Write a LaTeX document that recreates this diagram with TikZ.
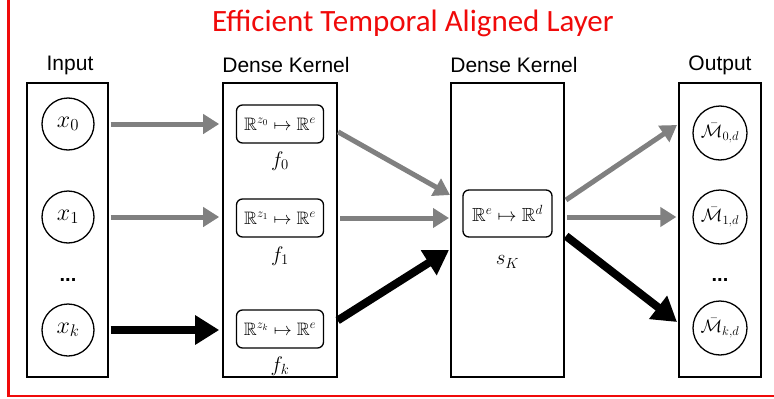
\RequirePackage{fix-cm}
\documentclass[tikz,border=0pt]{standalone}
\usepackage{amsmath}
\usepackage{amssymb}
\usepackage[no-math]{fontspec}
\setmainfont{Liberation Sans}
\newfontfamily\titlefont{Carlito}
\usetikzlibrary{arrows.meta}
\definecolor{framered}{RGB}{240,10,10}
\definecolor{flowgray}{RGB}{128,128,128}

\begin{document}
\begin{tikzpicture}[x=1pt, y=-1pt,
    every node/.style={font=\fontsize{21}{25}\selectfont},
    layerbox/.style={draw, line width=1.6pt, minimum width=#1, minimum height=294pt, inner sep=0pt},
    unit/.style={circle, draw, line width=1.3pt, minimum size=52pt, inner sep=0pt, font=\fontsize{24}{28}\selectfont},
    outunit/.style={unit, minimum size=54pt, font=\fontsize{18}{21}\selectfont},
    mapbox/.style={draw, rounded corners=6pt, line width=1.3pt, minimum width=#1, inner sep=0pt, font=\fontsize{18}{21}\selectfont},
    fname/.style={font=\fontsize{21}{24}\selectfont},
    softarrow/.style={draw=flowgray, line width=5pt, -{Triangle[length=16pt,width=19pt]}},
    hardarrow/.style={draw=black, line width=8pt, -{Triangle[length=24pt,width=28pt]}}]
    \useasboundingbox (0,0) rectangle (774,399);
    \draw[framered, line width=2.5pt] (8.5,0) -- (8.5,396) -- (774,396);
    \node[font=\titlefont\fontsize{31}{36}\selectfont, text=framered] (title) at (413,23) {Efficient Temporal Aligned Layer};
    % column headings
    \node (inlab) at (70,65) {Input};
    \node (k1lab) at (286,65) {Dense Kernel};
    \node (k2lab) at (514,65) {Dense Kernel};
    \node (outlab) at (720,65) {Output};
    % columns
    \node[layerbox=81pt] (inbox) at (67.5,230) {};
    \node[layerbox=114pt] (k1box) at (280,230) {};
    \node[layerbox=113pt] (k2box) at (507.5,230) {};
    \node[layerbox=82pt] (outbox) at (720,230) {};
    % inputs
    \node[unit] (x0) at (68,124) {$x_0$};
    \node[unit] (x1) at (68,217) {$x_1$};
    \node[font=\bfseries\fontsize{20}{24}\selectfont] (indots) at (68,280) {...};
    \node[unit] (xk) at (68,330) {$x_k$};
    % first kernel
    \node[mapbox=87pt, minimum height=38pt] (f0) at (280,124) {$\mathbb{R}^{z_0}\mapsto\mathbb{R}^e$};
    \node[mapbox=87pt, minimum height=38pt] (f1) at (280,218) {$\mathbb{R}^{z_1}\mapsto\mathbb{R}^e$};
    \node[mapbox=87pt, minimum height=38pt] (fk) at (280,329) {$\mathbb{R}^{z_k}\mapsto\mathbb{R}^e$};
    \node[fname] (f0lab) at (280,161) {$f_0$};
    \node[fname] (f1lab) at (280,256) {$f_1$};
    \node[fname] (fklab) at (280,366) {$f_k$};
    % second kernel
    \node[mapbox=89pt, minimum height=47pt, font=\fontsize{19}{22}\selectfont] (sk) at (507.5,213.5) {$\mathbb{R}^e\mapsto\mathbb{R}^d$};
    \node[fname] (sklab) at (507.5,262) {$s_K$};
    % outputs
    \node[outunit] (m0) at (720,133) {$\bar{\mathcal{M}}_{0,d}$};
    \node[outunit] (m1) at (720,217) {$\bar{\mathcal{M}}_{1,d}$};
    \node[font=\bfseries\fontsize{20}{24}\selectfont] (outdots) at (720,280) {...};
    \node[outunit] (mk) at (720,328) {$\bar{\mathcal{M}}_{k,d}$};
    \coordinate (k2a) at (450,195);
    \coordinate (k2b) at (449,218);
    \coordinate (k2c) at (449,250);
    \coordinate (s0) at (566,200);
    \coordinate (sk0) at (566,236);
    \coordinate (m0in) at (677,125);
    \coordinate (mkin) at (677,322);
    % connections
    \draw[softarrow, shorten <=16pt, shorten >=3pt] (x0) -- (x0 -| k1box.west);
    \draw[softarrow, shorten <=16pt, shorten >=3pt] (x1) -- (x1 -| k1box.west);
    \draw[hardarrow, shorten <=16pt, shorten >=3pt] (xk) -- (xk -| k1box.west);
    \draw[softarrow, shorten <=16pt] (f0.east) -- (k2a);
    \draw[softarrow, shorten <=16pt] (f1.east) -- (k2b);
    \draw[hardarrow, shorten <=16pt] (fk.east) -- (k2c);
    \draw[softarrow] (s0) -- (m0in);
    \draw[softarrow, shorten <=2pt, shorten >=16pt] (k2box.east |- m1) -- (m1);
    \draw[hardarrow] (sk0) -- (mkin);
\end{tikzpicture}
\end{document}
